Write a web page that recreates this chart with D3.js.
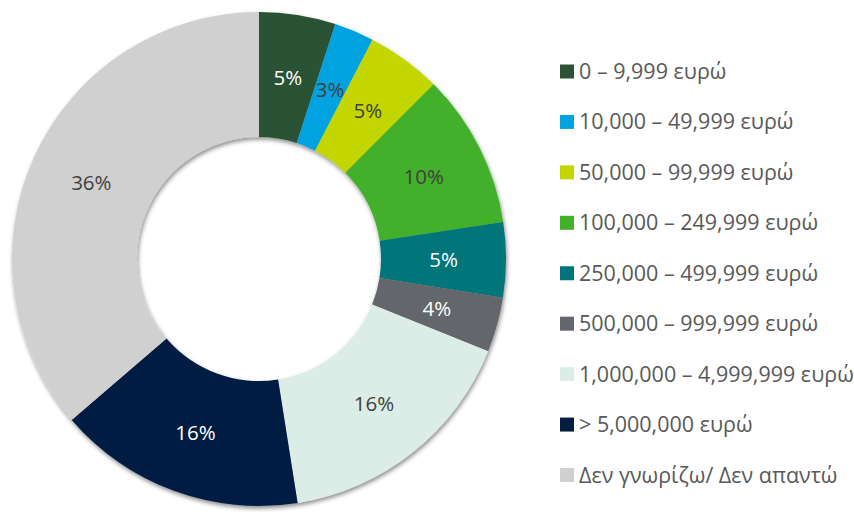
<!DOCTYPE html>
<meta charset="utf-8">
<style>
body{
    margin:0;
    background:#fff;
    font-family: "Open Sans", sans-serif;
}
.legend text{
    fill:#595959;
    font-size:21.5px;
}
.slice-label{
    font-size:20.5px;
}
</style>
<svg width="854" height="512"></svg>
<script src="https://d3js.org/d3.v7.min.js"></script>
<script>

var categories = ['0 – 9,999 ευρώ', '10,000 – 49,999 ευρώ', '50,000 – 99,999 ευρώ',
    '100,000 – 249,999 ευρώ', '250,000 – 499,999 ευρώ', '500,000 – 999,999 ευρώ',
    '1,000,000 – 4,999,999 ευρώ', '> 5,000,000 ευρώ', 'Δεν γνωρίζω/ Δεν απαντώ'];
// slice sizes as read from the ring, and the rounded labels printed on it
var values = [5.0, 2.6, 4.9, 10.1, 4.9, 3.6, 16.4, 16.2, 36.3];
var labels = ['5%', '3%', '5%', '10%', '5%', '4%', '16%', '16%', '36%'];
var colours = ['#2c5234', '#00a3e0', '#c4d600', '#43b02a', '#00747a',
    '#63666a', '#dcede7', '#041e42', '#d0d0d0'];
var labelColours = ['#fff', '#404040', '#404040', '#404040', '#fff',
    '#fff', '#404040', '#fff', '#404040'];

var svg = d3.select('svg');

var defs = svg.append('defs');
defs.append('filter')
    .attr('id', 'shade')
    .attr('x', '-10%').attr('y', '-10%')
    .attr('width', '120%').attr('height', '120%')
    .append('feDropShadow')
    .attr('dx', 1)
    .attr('dy', 2.5)
    .attr('stdDeviation', 2)
    .attr('flood-opacity', 0.45);

var cx = 259, cy = 259;
var outer = 247, inner = 122;

var data = values.map(function(v, i){
    return {name: categories[i], value: v, text: labels[i], colour: colours[i], label: labelColours[i]};
});

var pie = d3.pie()
    .sort(null)
    .value(function(d){ return d.value; });

var arc = d3.arc()
    .innerRadius(inner)
    .outerRadius(outer);

var labelArc = d3.arc()
    .innerRadius((inner + outer) / 2)
    .outerRadius((inner + outer) / 2);

var chart = svg.append('g')
    .attr('transform', 'translate(' + cx + ',' + cy + ')');

var arcs = pie(data);

chart.append('g')
    .attr('filter', 'url(#shade)')
    .selectAll('path')
    .data(arcs)
    .enter()
    .append('path')
    .attr('d', arc)
    .attr('fill', function(d){ return d.data.colour; });

chart.selectAll('text.slice-label')
    .data(arcs)
    .enter()
    .append('text')
    .attr('class', 'slice-label')
    .attr('transform', function(d){ return 'translate(' + labelArc.centroid(d) + ')'; })
    .attr('text-anchor', 'middle')
    .attr('dy', '0.38em')
    .attr('fill', function(d){ return d.data.label; })
    .text(function(d){ return d.data.text; });

var legendY = d3.scalePoint()
    .domain(categories)
    .range([71.5, 475]);

var legend = svg.append('g')
    .attr('class', 'legend')
    .selectAll('g')
    .data(data)
    .enter()
    .append('g')
    .attr('transform', function(d){ return 'translate(560,' + legendY(d.name) + ')'; });

legend.append('rect')
    .attr('x', 0)
    .attr('y', -7)
    .attr('width', 14)
    .attr('height', 14)
    .attr('fill', function(d){ return d.colour; });

legend.append('text')
    .attr('x', 19)
    .attr('dy', '0.35em')
    .text(function(d){ return d.name; });

</script>
